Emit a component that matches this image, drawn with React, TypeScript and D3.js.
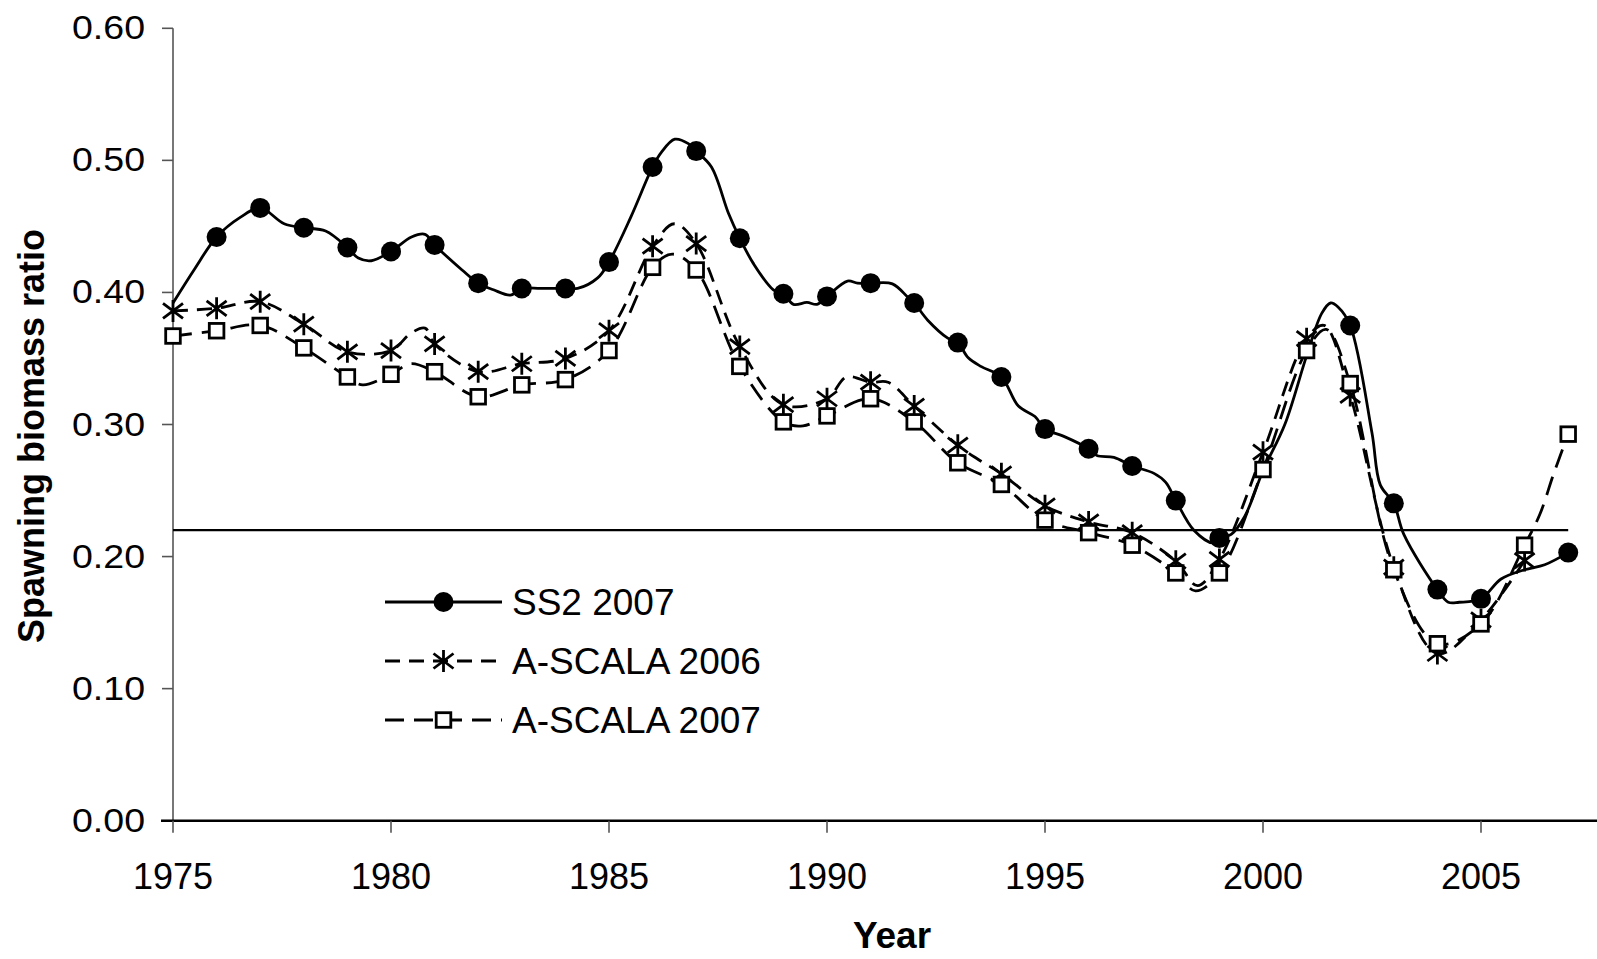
import React from 'react';
import * as d3 from 'd3';

// annual values
const years = [1975, 1976, 1977, 1978, 1979, 1980, 1981, 1982, 1983, 1984, 1985, 1986, 1987, 1988, 1989, 1990, 1991,
  1992, 1993, 1994, 1995, 1996, 1997, 1998, 1999, 2000, 2001, 2002, 2003, 2004, 2005, 2006, 2007];

const ss2 = [0.392, 0.442, 0.464, 0.449, 0.434, 0.431, 0.436, 0.407, 0.403, 0.403, 0.423, 0.495, 0.507, 0.441, 0.399, 0.397, 0.407,
  0.392, 0.362, 0.336, 0.2965, 0.2816, 0.2686, 0.2424, 0.2141, 0.265, 0.352, 0.375, 0.2403, 0.175, 0.168, 0.19, 0.203];

const ascala2006 = [0.386, 0.388, 0.393, 0.376, 0.355, 0.356, 0.361, 0.34, 0.346, 0.35, 0.371, 0.435, 0.437, 0.359, 0.315, 0.3195, 0.332,
  0.314, 0.2843, 0.2627, 0.2384, 0.2262, 0.2181, 0.1965, 0.1978, 0.279, 0.365, 0.322, 0.192, 0.1266, 0.152, 0.197, null];

const ascala2007 = [0.367, 0.371, 0.375, 0.358, 0.336, 0.338, 0.34, 0.321, 0.33, 0.334, 0.356, 0.419, 0.417, 0.344, 0.302, 0.3065, 0.3195,
  0.302, 0.271, 0.2546, 0.2276, 0.2181, 0.2086, 0.1876, 0.1876, 0.2659, 0.356, 0.331, 0.19, 0.134, 0.149, 0.2086, 0.2927];

// extra line vertices between the years (the curves are drawn from sub-annual estimates)
const ss2Between = [
  [1975.5, 0.418], [1976.55, 0.457], [1977.55, 0.452], [1978.5, 0.4465], [1979.25, 0.426], [1979.55, 0.424],
  [1980.47, 0.442], [1980.78, 0.444], [1981.63, 0.417], [1982.35, 0.402], [1982.74, 0.398], [1983.43, 0.403],
  [1984.28, 0.403], [1984.74, 0.411], [1985.5, 0.457], [1986.2, 0.506], [1986.51, 0.516], [1986.82, 0.5127],
  [1987.35, 0.495], [1987.74, 0.46], [1988.31, 0.422], [1988.77, 0.402], [1989.23, 0.391], [1989.54, 0.3924],
  [1989.77, 0.391], [1990.47, 0.4086], [1990.7, 0.407], [1991.5, 0.4065], [1991.85, 0.3965], [1992.31, 0.379],
  [1992.77, 0.3654], [1993.24, 0.3505], [1993.54, 0.3438], [1994.39, 0.314], [1994.77, 0.306], [1995.42, 0.2912],
  [1996.19, 0.2765], [1996.58, 0.2751], [1997.5, 0.263], [1997.77, 0.2562], [1998.42, 0.2197], [1998.85, 0.2103],
  [1999.27, 0.2168], [1999.58, 0.2303], [2000.5, 0.3], [2001.35, 0.3843], [2001.55, 0.392], [2001.72, 0.389],
  [2002.5, 0.2935], [2002.69, 0.2543], [2003.23, 0.2168], [2004.25, 0.1654], [2004.5, 0.1654], [2005.46, 0.183],
  [2006.46, 0.1938],
];

const ascala2006Between = [
  [1980.45, 0.369], [1980.78, 0.373], [1986.5, 0.452], [1990.45, 0.336], [1991.4, 0.332], [1993.47, 0.2735],
  [1998.5, 0.178], [2001.4, 0.375],
];

const ascala2007Between = [
  [1979.35, 0.33], [1980.45, 0.346], [1986.45, 0.429], [1989.45, 0.299], [1998.45, 0.174], [2001.45, 0.372],
  [2006.35, 0.232], [2006.67, 0.263],
];

const ss2NoMarker = [1975, 2000, 2001, 2006];

const yTicks = [0, 0.1, 0.2, 0.3, 0.4, 0.5, 0.6];
const xTicks = [1975, 1980, 1985, 1990, 1995, 2000, 2005];
const refLevel = 0.22;

const seriesNames = ['SS2 2007', 'A-SCALA 2006', 'A-SCALA 2007'];

const W = 1597;
const H = 959;
const font = "'Liberation Sans', Arial, Helvetica, sans-serif";

const x = d3.scaleLinear().domain([1975, 2005]).range([173, 1481]);
const y = d3.scaleLinear().domain([0, 0.6]).range([820.7, 28.3]);

const vertices = (vals, between) =>
  years
    .map((yr, i) => [yr, vals[i]])
    .filter(d => d[1] != null)
    .concat(between)
    .sort((a, b) => a[0] - b[0]);

const lineGen = d3.line()
  .x(d => x(d[0]))
  .y(d => y(d[1]))
  .curve(d3.curveCatmullRom.alpha(0.5));

const STAR = 'M0,-11V11M-10,-7.5L10,7.5M-10,7.5L10,-7.5';

const Marker = ({ kind, cx, cy }) => {
  if (kind === 'circle') return <circle cx={cx} cy={cy} r={10} fill="#000" />;
  if (kind === 'star') return <path d={STAR} transform={`translate(${cx},${cy})`} stroke="#000" strokeWidth={2.8} fill="none" />;
  return <rect x={cx - 7.3} y={cy - 7.3} width={14.6} height={14.6} fill="#fff" stroke="#000" strokeWidth={2.8} />;
};

const series = [
  { name: seriesNames[0], vals: ss2, between: ss2Between, kind: 'circle', dash: null, skip: ss2NoMarker },
  { name: seriesNames[1], vals: ascala2006, between: ascala2006Between, kind: 'star', dash: '15,9', skip: [] },
  { name: seriesNames[2], vals: ascala2007, between: ascala2007Between, kind: 'square', dash: '19,10', skip: [] },
];

export default function App() {
  const fmt = d3.format('.2f');
  return (
    <svg width={W} height={H} style={{ position: 'absolute', left: 0, top: 0, background: '#fff' }} fontFamily={font}>
      <rect width={W} height={H} fill="#fff" />

      {/* y axis */}
      <line x1={x(1975)} x2={x(1975)} y1={y(0.6)} y2={y(0)} stroke="#555" strokeWidth={1.6} />
      {yTicks.map(t => (
        <g key={t}>
          <line x1={x(1975) - 11} x2={x(1975)} y1={y(t)} y2={y(t)} stroke="#555" strokeWidth={1.6} />
          <text x={145} y={y(t) + 11} textAnchor="end" fontSize={33} textLength={73} lengthAdjust="spacingAndGlyphs">{fmt(t)}</text>
        </g>
      ))}

      {/* x axis */}
      <line x1={x(1975) - 12} x2={W} y1={y(0)} y2={y(0)} stroke="#000" strokeWidth={2.4} />
      {xTicks.map(t => (
        <g key={t}>
          <line x1={x(t)} x2={x(t)} y1={y(0)} y2={y(0) + 12} stroke="#555" strokeWidth={1.6} />
          <text x={x(t)} y={889} textAnchor="middle" fontSize={36}>{t}</text>
        </g>
      ))}

      <text x={892} y={948} textAnchor="middle" fontSize={37} fontWeight="bold">Year</text>
      <text transform="translate(44,436) rotate(-90)" textAnchor="middle" fontSize={36} fontWeight="bold">Spawning biomass ratio</text>

      {/* reference level */}
      <line x1={x(1975)} x2={x(2007)} y1={y(refLevel)} y2={y(refLevel)} stroke="#000" strokeWidth={2.2} />

      {series.map(s => (
        <g key={s.name}>
          <path d={lineGen(vertices(s.vals, s.between))} fill="none" stroke="#000" strokeWidth={2.8}
            strokeDasharray={s.dash || undefined} />
          {years.map((yr, i) => (s.vals[i] == null || s.skip.includes(yr)) ? null : (
            <Marker key={yr} kind={s.kind} cx={x(yr)} cy={y(s.vals[i])} />
          ))}
        </g>
      ))}

      {/* legend */}
      {series.map((s, i) => {
        const ly = 602 + i * 59;
        return (
          <g key={s.name}>
            <line x1={385} x2={502} y1={ly} y2={ly} stroke="#000" strokeWidth={2.8} strokeDasharray={s.dash || undefined} />
            <Marker kind={s.kind} cx={443.5} cy={ly} />
            <text x={512} y={ly + 13} fontSize={37}>{s.name}</text>
          </g>
        );
      })}
    </svg>
  );
}
